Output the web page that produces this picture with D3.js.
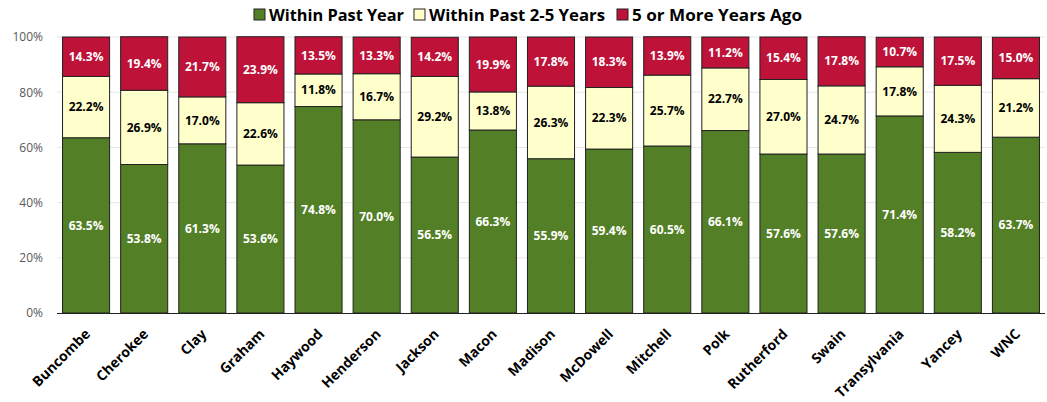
<!DOCTYPE html>
<html><head><meta charset="utf-8">
<script src="https://cdn.jsdelivr.net/npm/d3@7"></script>
<style>body{margin:0;background:#fff;} svg{display:block;font-family:"Open Sans",sans-serif;}</style>
</head><body><svg id="c" width="1047" height="402"></svg>
<script>
const categories = ["Buncombe","Cherokee","Clay","Graham","Haywood","Henderson","Jackson","Macon","Madison","McDowell","Mitchell","Polk","Rutherford","Swain","Transylvania","Yancey","WNC"];
const pastYear = [63.5,53.8,61.3,53.6,74.8,70.0,56.5,66.3,55.9,59.4,60.5,66.1,57.6,57.6,71.4,58.2,63.7];
const past2to5 = [22.2,26.9,17.0,22.6,11.8,16.7,29.2,13.8,26.3,22.3,25.7,22.7,27.0,24.7,17.8,24.3,21.2];
const moreThan5 = [14.3,19.4,21.7,23.9,13.5,13.3,14.2,19.9,17.8,18.3,13.9,11.2,15.4,17.8,10.7,17.5,15.0];
const seriesNames = ["Within Past Year","Within Past 2-5 Years","5 or More Years Ago"];
const yTicks = [0,20,40,60,80,100];
const colors = ["#538026","#FFFFCC","#BE1238"];
const textColors = ["#fff","#000","#fff"];

const svg = d3.select("#c");
const L=57,R=1045,T=37,B=313;
const x = d3.scaleBand().domain(categories).range([L,R]).paddingInner(0.19).paddingOuter(0.095);
const y = d3.scaleLinear().domain([0,100]).range([B,T]);

// grid
svg.append("g").selectAll("line").data(yTicks.filter(d=>d>0)).join("line")
 .attr("x1",L).attr("x2",R).attr("y1",d=>y(d)).attr("y2",d=>y(d))
 .attr("stroke","#e6e6e6").attr("stroke-width",1);

// y axis labels
const ya = svg.append("g").attr("transform",`translate(${L},0)`)
 .call(d3.axisLeft(y).tickValues(yTicks).tickFormat(d=>d+"%").tickSize(0).tickPadding(14));
ya.select(".domain").remove();
ya.selectAll("text").attr("font-size",12).attr("fill","#595959").attr("font-family","'Open Sans',sans-serif");

const rows = categories.map((c,i)=>({c, v:[pastYear[i],past2to5[i],moreThan5[i]]}));
const g = svg.append("g");
rows.forEach(r=>{
  let acc=0;
  r.v.forEach((v,k)=>{
    const y0=acc, y1=acc+v; acc=y1;
    g.append("rect").attr("x",x(r.c)).attr("width",x.bandwidth())
     .attr("y",y(y1)).attr("height",y(y0)-y(y1))
     .attr("fill",colors[k]).attr("stroke","#222").attr("stroke-width",1);
    g.append("text").attr("x",x(r.c)+x.bandwidth()/2).attr("y",(y(y0)+y(y1))/2)
     .attr("dy","0.35em").attr("text-anchor","middle").attr("font-size",12).attr("font-weight","bold")
     .attr("fill",textColors[k]).text(v.toFixed(1)+"%");
  });
});

// x axis line
svg.append("line").attr("x1",L).attr("x2",R).attr("y1",B+0.5).attr("y2",B+0.5).attr("stroke","#222").attr("stroke-width",1.2);

// x labels
svg.append("g").selectAll("text").data(categories).join("text")
 .attr("transform",d=>`translate(${x(d)+x.bandwidth()/2+5},${B+22}) rotate(-45)`)
 .attr("text-anchor","end").attr("font-size",14).attr("font-weight","bold").attr("fill","#000").text(d=>d);

// legend
const leg = svg.append("g");
const legX=[254,414,617];
const legW=[135,176,170];
seriesNames.forEach((n,k)=>{
  leg.append("rect").attr("x",legX[k]).attr("y",9).attr("width",11).attr("height",11)
   .attr("fill",colors[k]).attr("stroke","#222").attr("stroke-width",1);
  leg.append("text").attr("x",legX[k]+15).attr("y",15).attr("dy","0.36em")
   .attr("font-size",16.5).attr("font-weight","bold").attr("fill","#000")
   .attr("textLength",legW[k]).attr("lengthAdjust","spacingAndGlyphs").text(n);
});
</script></body></html>
